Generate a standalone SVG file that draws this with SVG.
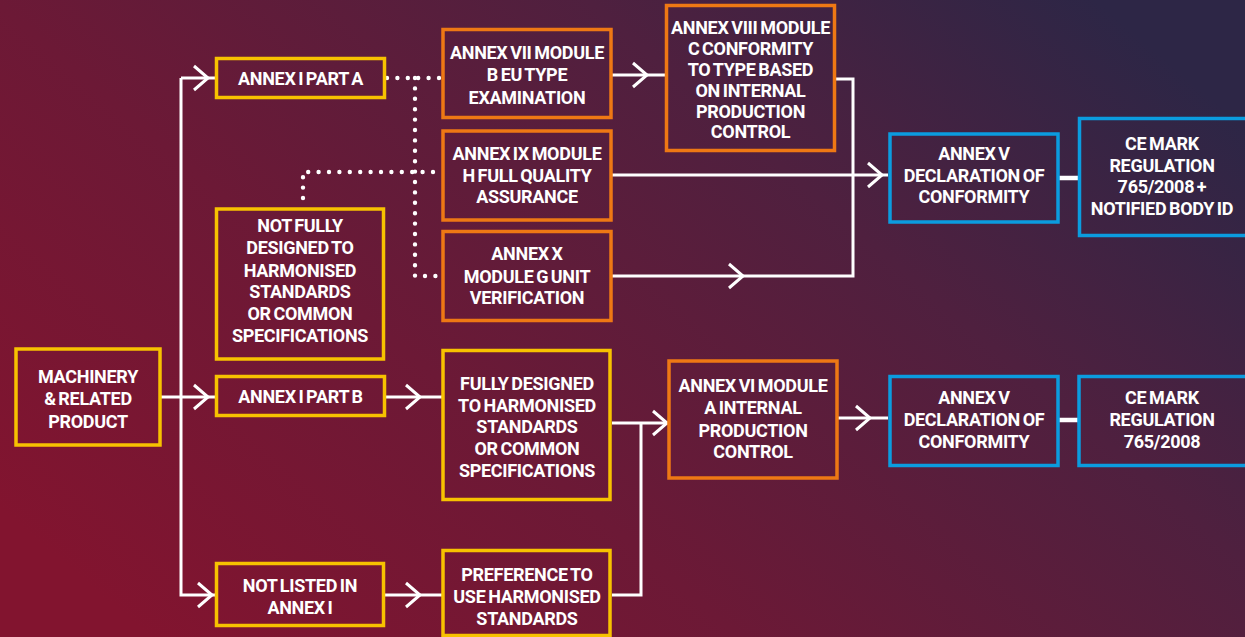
<svg xmlns="http://www.w3.org/2000/svg" xmlns:xlink="http://www.w3.org/1999/xlink" width="1245" height="637" viewBox="0 0 1245 637">
<defs>
<linearGradient id="bg" x1="0" y1="0.8" x2="1" y2="0.2">
<stop offset="0" stop-color="#82142f"/>
<stop offset="0.35" stop-color="#6c1936"/>
<stop offset="0.7" stop-color="#4f203f"/>
<stop offset="1" stop-color="#2d2646"/>
</linearGradient>
<path id="chev" d="M-14,-12 L0,0 L-14,12" fill="none" stroke="#fff" stroke-width="3"/>
<style>
.box{fill:none;stroke-width:3.5}
.y{stroke:#f7c200}
.o{stroke:#ee7814}
.b{stroke:#0b9cdf}
.t{font-family:Roboto,"Liberation Sans",sans-serif;font-weight:700;font-size:18px;fill:#fff;text-anchor:middle;word-spacing:-1.5px;letter-spacing:-0.3px}
.ln{fill:none;stroke:#fff;stroke-width:3}
.thick{fill:none;stroke:#fff;stroke-width:4.5}
.dot{fill:none;stroke:#fff;stroke-width:4.4;stroke-linecap:round;stroke-dasharray:0 10.4}
</style>
</defs>
<rect width="1245" height="637" fill="url(#bg)"/>

<g id="connectors">
<path class="ln" d="M161,397 H215 M181,78 V595 H215 M181,78 H215"/>
<path class="ln" d="M386,397 H442 M385,595 H442"/>
<path class="ln" d="M612,595 H641 V423 M612,423 H668"/>
<path class="ln" d="M838,418 H888"/>
<path class="ln" d="M612,75 H666"/>
<path class="ln" d="M836,79 H853 V276 H612"/>
<path class="ln" d="M612,175 H888"/>
<path class="thick" d="M1059,178 H1078 M1059,420 H1078"/>
<use xlink:href="#chev" x="208" y="78"/>
<use xlink:href="#chev" x="208" y="397"/>
<use xlink:href="#chev" x="212" y="595"/>
<use xlink:href="#chev" x="420" y="397"/>
<use xlink:href="#chev" x="420" y="595"/>
<use xlink:href="#chev" x="647" y="75"/>
<use xlink:href="#chev" x="667" y="423"/>
<use xlink:href="#chev" x="870" y="418"/>
<use xlink:href="#chev" x="882" y="175"/>
<use xlink:href="#chev" x="743" y="276"/>
<path class="dot" d="M387,78 H440"/>
<path class="dot" d="M415,78 V276 H440"/>
<path class="dot" d="M303,198 V172 H440"/>
</g>

<g id="machinery"><rect class="box y" x="16" y="349" width="144" height="96"/>
<text class="t"><tspan x="88" y="383">MACHINERY</tspan><tspan x="88" y="405">&amp; RELATED</tspan><tspan x="88" y="428">PRODUCT</tspan></text></g>

<g id="partA"><rect class="box y" x="216.5" y="58.5" width="168" height="39"/>
<text class="t" x="300.5" y="85">ANNEX I PART A</text></g>

<g id="partB"><rect class="box y" x="216.5" y="376.5" width="168" height="39"/>
<text class="t" x="300.5" y="403">ANNEX I PART B</text></g>

<g id="notListed"><rect class="box y" x="216.5" y="563.5" width="167" height="62"/>
<text class="t"><tspan x="300" y="592">NOT LISTED IN</tspan><tspan x="300" y="614">ANNEX I</tspan></text></g>

<g id="notFully"><rect class="box y" x="216.5" y="209" width="167" height="150"/>
<text class="t"><tspan x="300" y="232">NOT FULLY</tspan><tspan x="300" y="254">DESIGNED TO</tspan><tspan x="300" y="277">HARMONISED</tspan><tspan x="300" y="298">STANDARDS</tspan><tspan x="300" y="320">OR COMMON</tspan><tspan x="300" y="342">SPECIFICATIONS</tspan></text></g>

<g id="annexVII"><rect class="box o" x="443" y="29.5" width="168" height="88"/>
<text class="t"><tspan x="527" y="59">ANNEX VII MODULE</tspan><tspan x="527" y="81">B EU TYPE</tspan><tspan x="527" y="104">EXAMINATION</tspan></text></g>

<g id="annexIX"><rect class="box o" x="443" y="131" width="168" height="89"/>
<text class="t"><tspan x="527" y="160">ANNEX IX MODULE</tspan><tspan x="527" y="182">H FULL QUALITY</tspan><tspan x="527" y="203">ASSURANCE</tspan></text></g>

<g id="annexX"><rect class="box o" x="443" y="231.5" width="168" height="89"/>
<text class="t"><tspan x="527" y="260">ANNEX X</tspan><tspan x="527" y="283">MODULE G UNIT</tspan><tspan x="527" y="304">VERIFICATION</tspan></text></g>

<g id="annexVIII"><rect class="box o" x="666.5" y="5.5" width="168" height="145"/>
<text class="t"><tspan x="750.5" y="34">ANNEX VIII MODULE</tspan><tspan x="750.5" y="55">C CONFORMITY</tspan><tspan x="750.5" y="76">TO TYPE BASED</tspan><tspan x="750.5" y="97">ON INTERNAL</tspan><tspan x="750.5" y="118">PRODUCTION</tspan><tspan x="750.5" y="138">CONTROL</tspan></text></g>

<g id="fullyDesigned"><rect class="box y" x="443" y="350.5" width="167" height="149"/>
<text class="t"><tspan x="527" y="390">FULLY DESIGNED</tspan><tspan x="527" y="412">TO HARMONISED</tspan><tspan x="527" y="433">STANDARDS</tspan><tspan x="527" y="455">OR COMMON</tspan><tspan x="527" y="477">SPECIFICATIONS</tspan></text></g>

<g id="preference"><rect class="box y" x="443" y="550.5" width="167" height="85"/>
<text class="t"><tspan x="527" y="581">PREFERENCE TO</tspan><tspan x="527" y="603">USE HARMONISED</tspan><tspan x="527" y="625">STANDARDS</tspan></text></g>

<g id="annexVI"><rect class="box o" x="669" y="361" width="168" height="117"/>
<text class="t"><tspan x="753" y="392">ANNEX VI MODULE</tspan><tspan x="753" y="414">A INTERNAL</tspan><tspan x="753" y="437">PRODUCTION</tspan><tspan x="753" y="458">CONTROL</tspan></text></g>

<g id="annexVtop"><rect class="box b" x="890" y="134" width="168" height="88"/>
<text class="t"><tspan x="974" y="160">ANNEX V</tspan><tspan x="974" y="182">DECLARATION OF</tspan><tspan x="974" y="203">CONFORMITY</tspan></text></g>

<g id="ceTop"><rect class="box b" x="1079.5" y="118.5" width="170" height="117"/>
<text class="t"><tspan x="1162" y="150">CE MARK</tspan><tspan x="1162" y="172">REGULATION</tspan><tspan x="1162" y="193">765/2008 +</tspan><tspan x="1162" y="215">NOTIFIED BODY ID</tspan></text></g>

<g id="annexVbottom"><rect class="box b" x="890" y="376.5" width="168" height="89"/>
<text class="t"><tspan x="974" y="404">ANNEX V</tspan><tspan x="974" y="426">DECLARATION OF</tspan><tspan x="974" y="448">CONFORMITY</tspan></text></g>

<g id="ceBottom"><rect class="box b" x="1079" y="376.5" width="170" height="89"/>
<text class="t"><tspan x="1162" y="404">CE MARK</tspan><tspan x="1162" y="426">REGULATION</tspan><tspan x="1162" y="448">765/2008</tspan></text></g>
</svg>
